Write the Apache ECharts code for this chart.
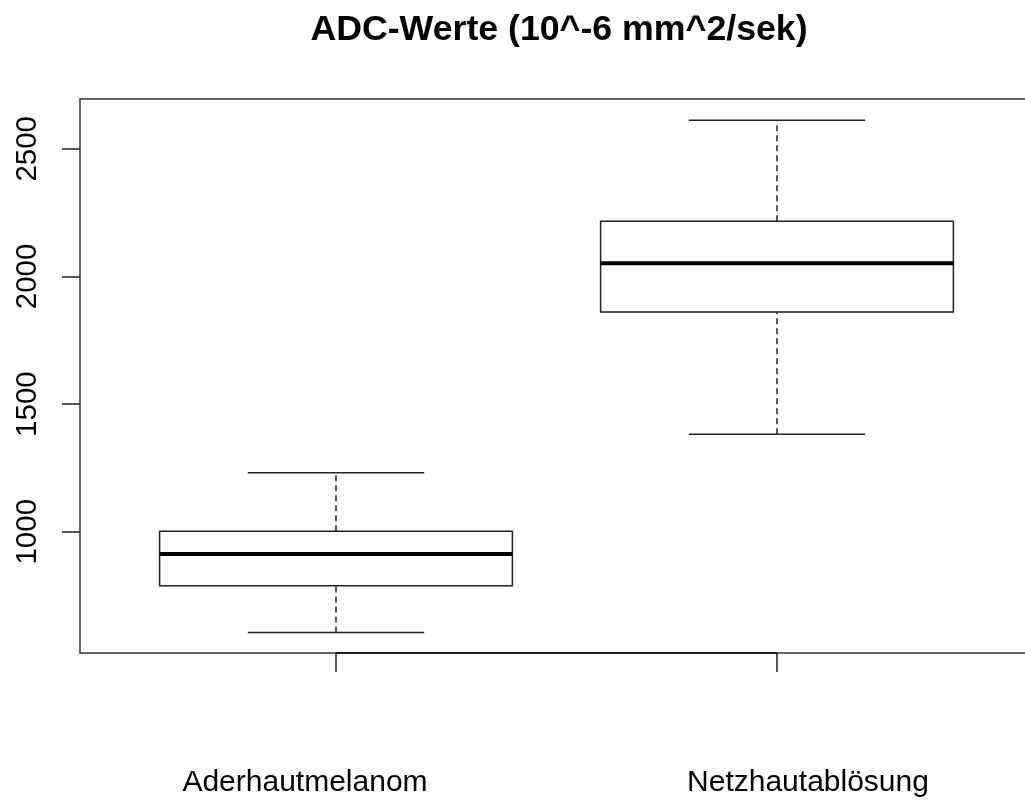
<!DOCTYPE html>
<html>
<head>
<meta charset="utf-8">
<script src="https://cdn.jsdelivr.net/npm/echarts@6/dist/echarts.min.js"></script>
<style>html,body{margin:0;padding:0;background:#fff;}#c{width:1025px;height:801px;}</style>
</head>
<body>
<div id="c"></div>
<script>
// Data
const categories = ["Aderhautmelanom", "Netzhautablösung"];
const lowerWhisker = [605, 1382];
const q1 = [788, 1861];
const median = [913, 2052];
const q3 = [1002, 2216];
const upperWhisker = [1231, 2612];
const yTicks = [1000, 1500, 2000, 2500];
const yRange = [525, 2695];
// visible x range (the plot box of the original runs past the right edge of the picture)
const xRange = [0.4195, 2.5624];
const titleText = "ADC-Werte (10^-6 mm^2/sek)";

const boxData = categories.map((c, i) => [i + 1, lowerWhisker[i], q1[i], median[i], q3[i], upperWhisker[i]]);
const FONT = "'Liberation Sans', Arial, Helvetica, sans-serif";
const LINE = '#222';
const FRAME = { show: true, lineStyle: { color: '#333', width: 1.5 } };

const chart = echarts.init(document.getElementById('c'));
chart.setOption({
  backgroundColor: '#fff',
  animation: false,
  title: {
    text: titleText, left: 554, top: 7, textAlign: 'center',
    textStyle: { fontFamily: FONT, fontSize: 35.7, fontWeight: 'bold', color: '#000' }
  },
  grid: { left: 80, right: 0, top: 99, bottom: 148, show: false },
  xAxis: [{
    type: 'value', min: xRange[0], max: xRange[1], position: 'bottom',
    axisLine: FRAME, splitLine: { show: false },
    axisTick: { show: true, customValues: [1, 2], length: 19, lineStyle: { color: '#222', width: 1.5 } },
    axisLabel: {
      customValues: [1, 2],
      formatter: v => { const i = Math.round(v) - 1; return categories[i] ? '{l' + i + '|' + categories[i] + '}' : ''; },
      margin: 115, fontFamily: FONT, fontSize: 30, color: '#000',
      rich: {
        l0: { fontFamily: FONT, fontSize: 30, color: '#000', padding: [0, 62, 0, 0] },
        l1: { fontFamily: FONT, fontSize: 30, color: '#000', padding: [0, 0, 0, 62] }
      }
    }
  }, {
    type: 'value', min: xRange[0], max: xRange[1], position: 'top',
    axisLine: FRAME, splitLine: { show: false }, axisTick: { show: false }, axisLabel: { show: false }
  }],
  yAxis: {
    type: 'value', min: yRange[0], max: yRange[1],
    axisLine: FRAME, splitLine: { show: false },
    axisTick: { show: true, customValues: yTicks, length: 18, lineStyle: { color: '#222', width: 1.5 } },
    axisLabel: { customValues: yTicks, formatter: v => String(v), rotate: 90, margin: 37, fontFamily: FONT, fontSize: 29.5, color: '#000' }
  },
  series: [
    {
      type: 'custom',
      xAxisIndex: 0,
      data: boxData,
      renderItem: function (params, api) {
        const x = api.value(0);
        const lo = api.coord([x, api.value(1)]);
        const b1 = api.coord([x, api.value(2)]);
        const md = api.coord([x, api.value(3)]);
        const b3 = api.coord([x, api.value(4)]);
        const hi = api.coord([x, api.value(5)]);
        const left = api.coord([x - 0.4, 0])[0];
        const right = api.coord([x + 0.4, 0])[0];
        const cl = api.coord([x - 0.2, 0])[0];
        const cr = api.coord([x + 0.2, 0])[0];
        const solid = { stroke: LINE, lineWidth: 1.5, fill: null };
        const dashed = { stroke: LINE, lineWidth: 1.5, lineDash: [6, 4] };
        return {
          type: 'group',
          children: [
            { type: 'line', shape: { x1: lo[0], y1: lo[1], x2: b1[0], y2: b1[1] }, style: dashed },
            { type: 'line', shape: { x1: b3[0], y1: b3[1], x2: hi[0], y2: hi[1] }, style: dashed },
            { type: 'line', shape: { x1: cl, y1: lo[1], x2: cr, y2: lo[1] }, style: solid },
            { type: 'line', shape: { x1: cl, y1: hi[1], x2: cr, y2: hi[1] }, style: solid },
            { type: 'rect', shape: { x: left, y: b3[1], width: right - left, height: b1[1] - b3[1] }, style: { stroke: LINE, lineWidth: 1.5, fill: '#fff' } },
            { type: 'line', shape: { x1: left, y1: md[1], x2: right, y2: md[1] }, style: { stroke: '#000', lineWidth: 4 } }
          ]
        };
      }
    },
    {
      type: 'line',
      xAxisIndex: 0,
      data: [[1, yRange[0]], [2, yRange[0]]],
      symbol: 'none',
      lineStyle: { color: '#000', width: 1.5 },
      clip: false
    }
  ]
});
</script>
</body>
</html>
